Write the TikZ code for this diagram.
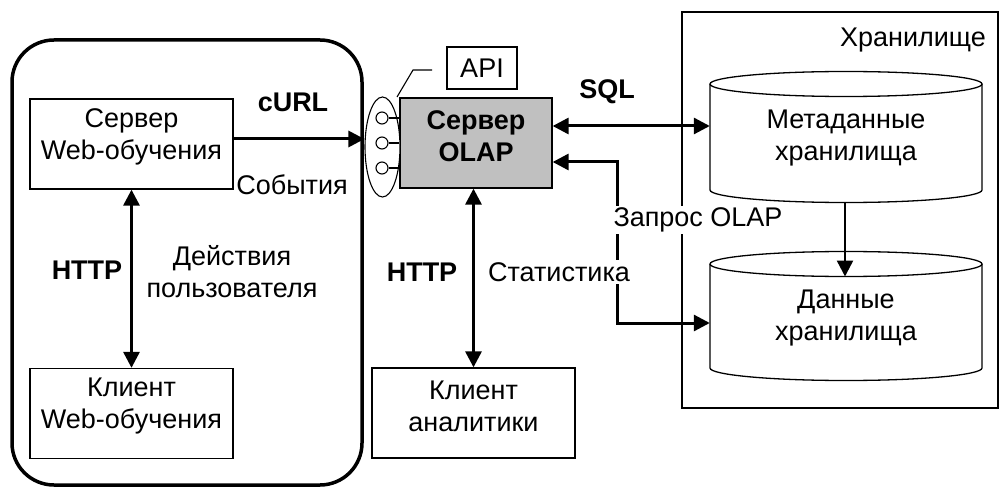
\documentclass[tikz,border=0pt]{standalone}
\usepackage{fontspec}
\setmainfont{Liberation Sans}
\usetikzlibrary{arrows.meta,shapes.geometric}
\begin{document}
\begin{tikzpicture}[x=1pt,y=-1pt,
  every node/.style={font=\fontsize{27}{32}\selectfont, align=center, inner sep=0pt},
  box/.style={draw, line width=1.3pt, minimum width=203pt, minimum height=90pt},
  bl/.style={font=\fontsize{27}{32}\selectfont\bfseries},
  tip/.tip={Triangle[length=16pt,width=16pt]},
  conn/.style={line width=3pt, tip-tip},
  oneway/.style={line width=3pt, -tip},
  thinline/.style={line width=1.3pt},
  lbl/.style={fill=white, inner sep=2pt},
  up/.style={yshift=7pt}
]
\useasboundingbox (0,0) rectangle (1001,489);

% left rounded group
\draw[line width=3.5pt, rounded corners=42pt] (12,40) rectangle (362,485);

% storage box
\draw[thinline] (682,12) rectangle (998,408);
\node at (913,40) {Хранилище};

% nodes
\node[box] (sw) at (131.5,144) {};
\node[up] at (sw) {Сервер\\Web-обучения};
\node[box] (cw) at (131.5,413.5) {};
\node[up] at (cw) {Клиент\\Web-обучения};
\node[box, fill={rgb,255:red,192;green,192;blue,192}, minimum width=152pt, minimum height=90pt] (olap) at (476,143) {};
\node[up, font=\fontsize{27}{32}\selectfont\bfseries] at (olap) {Сервер\\OLAP};
\node[box] (ca) at (473.5,413) {};
\node[up] at (ca) {Клиент\\аналитики};
\node[draw, line width=1.3pt, minimum width=70pt, minimum height=42pt] (api) at (482,68) {API};

% API ellipse with ports
\node[draw, fill=white, line width=1.1pt, ellipse, minimum width=35pt, minimum height=100pt] (port) at (382.5,147) {};
\foreach \yy/\nm in {118/p1,143/p2,168/p3}{
  \node[draw, fill=white, circle, line width=1.1pt, minimum size=12pt] (\nm) at (382,\yy) {};
  \draw[line width=1.1pt] (\nm.east) -- (\nm.east -| olap.west);
}
\coordinate (c1) at (413,70);
\coordinate (c2) at (432,70);
\draw[line width=1.1pt] (397,97) -- (c1) -- (c2);

% cylinders
\draw[thinline] (710,84) -- (710,190) arc[start angle=180,end angle=0,x radius=136,y radius=12.5] -- (982,84);
\draw[thinline] (846,84) ellipse [x radius=136, y radius=12.5];
\node[minimum width=272pt, minimum height=106pt] (meta) at (846,137) {};
\node at (846,138) {Метаданные\\хранилища};

\draw[thinline] (710,264) -- (710,368) arc[start angle=180,end angle=0,x radius=136,y radius=12.5] -- (982,264);
\draw[thinline] (846,264) ellipse [x radius=136, y radius=12.5];
\node[minimum width=272pt, minimum height=104pt] (data) at (846,316) {};
\node at (846,318) {Данные\\хранилища};

% connectors
\draw[oneway] (sw.east |- 0,139) -- (port.west |- 0,139);
\draw[conn] (sw.south) -- (cw.north);
\draw[conn] (olap.south -| ca.north) -- (ca.north);
\draw[conn] ([yshift=17pt]olap.east) -- ([yshift=17pt]olap.east -| meta.west);
\draw[conn] ([yshift=-19pt]olap.east) -- ++(65,0) |- ([yshift=-7pt]data.west);
\draw[oneway, line width=2.5pt] (845,202.5) -- (845,276.5);

% labels
\node[bl] at (293,102) {cURL};
\node at (292,185) {События};
\node[bl] at (87,270) {HTTP};
\node at (232,272) {Действия\\пользователя};
\node[bl] at (607,92) {SQL};
\node[bl] at (422,272) {HTTP};
\node[lbl] at (559,272) {Статистика};
\node[lbl] at (698,220) {Запрос OLAP};
\end{tikzpicture}
\end{document}
